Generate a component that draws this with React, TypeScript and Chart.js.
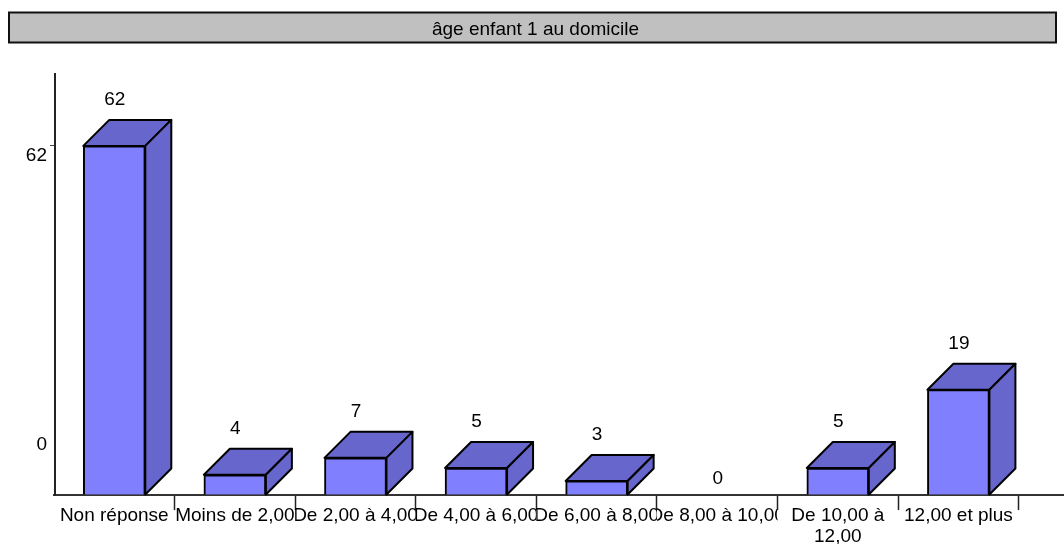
import React, { useEffect, useRef } from "react";
import { Chart, registerables, CategoryScale, LinearScale } from "chart.js";

Chart.register(...registerables);

const titleText = "âge enfant 1 au domicile";
const categories: (string | string[])[] = [
  "Non réponse",
  "Moins de 2,00",
  "De 2,00 à 4,00",
  "De 4,00 à 6,00",
  "De 6,00 à 8,00",
  "De 8,00 à 10,00",
  ["De 10,00 à", "12,00"],
  "12,00 et plus",
];
const percentages = [62, 3.6, 6.6, 4.8, 2.5, 0, 4.8, 18.7];
const yTickValues = [0, 62];
const yLabelShift: Record<number, number> = { 0: -50, 62: 10 };

const FONT = "'Liberation Sans', Arial, sans-serif";
const FRONT = "#8080FF";
const SHADE = "#6666CC";
const INK = "#000000";
const DEPTH_X = 26;
const DEPTH_Y = 26;

class ClippedCategory extends (CategoryScale as any) {
  static id = "clippedCategory";
  static defaults = (CategoryScale as any).defaults;
  drawLabels(area: any) {
    const items = (this as any).getLabelItems(area);
    const half = ((this as any).getPixelForTick(1) - (this as any).getPixelForTick(0)) / 2;
    const ctx = (this as any).ctx;
    items.forEach((item: any, i: number) => {
      const cx = (this as any).getPixelForTick(i);
      ctx.save();
      ctx.beginPath();
      ctx.rect(cx - half, (this as any).top, half * 2, (this as any).height);
      ctx.clip();
      (this as any)._labelItems = [item];
      super.drawLabels(area);
      ctx.restore();
    });
    (this as any)._labelItems = items;
  }
}

class ShiftedLinear extends (LinearScale as any) {
  static id = "shiftedLinear";
  static defaults = (LinearScale as any).defaults;
  _computeLabelItems(area: any) {
    const items = super._computeLabelItems(area);
    items.forEach((item: any, i: number) => {
      const v = (this as any).ticks[i].value;
      item.options.translation = [
        item.options.translation[0],
        item.options.translation[1] + (yLabelShift[v] || 0),
      ];
    });
    return items;
  }
  drawBorder() {
    const ctx = (this as any).ctx;
    ctx.save();
    ctx.translate(1, 0);
    super.drawBorder();
    ctx.restore();
  }
  drawGrid(area: any) {
    const ctx = (this as any).ctx;
    ctx.save();
    ctx.translate(3, 0);
    super.drawGrid(area);
    ctx.restore();
  }
}

Chart.register(ClippedCategory as any, ShiftedLinear as any);

const titleBox = {
  id: "titleBox",
  beforeDraw(chart: any) {
    const { ctx } = chart;
    if (chart.titleBlock) {
      chart.titleBlock.left = 8;
      chart.titleBlock.right = 1063;
    }
    ctx.save();
    ctx.fillStyle = "#C0C0C0";
    ctx.fillRect(9, 12.5, 1047, 30);
    ctx.strokeStyle = "#111111";
    ctx.lineWidth = 2;
    ctx.strokeRect(9, 12.5, 1047, 30);
    ctx.restore();
  },
};

const boxes3d = {
  id: "boxes3d",
  afterDatasetsDraw(chart: any) {
    const { ctx, chartArea } = chart;
    ctx.save();
    ctx.strokeStyle = INK;
    ctx.lineWidth = 2;
    ctx.lineJoin = "round";
    chart.getDatasetMeta(0).data.forEach((bar: any, i: number) => {
      const v = percentages[i];
      ctx.fillStyle = INK;
      ctx.font = `19px ${FONT}`;
      ctx.textAlign = "center";
      ctx.textBaseline = "middle";
      const gap = v === 0 ? 16 : 46;
      ctx.fillText(String(Math.round(v)), bar.x + 0.5, bar.y - gap);
      if (v === 0) return;
      const l = bar.x - bar.width / 2;
      const r = bar.x + bar.width / 2;
      const t = bar.y;
      const b = bar.base;
      ctx.fillStyle = SHADE;
      ctx.beginPath();
      ctx.moveTo(l, t);
      ctx.lineTo(l + DEPTH_X, t - DEPTH_Y);
      ctx.lineTo(r + DEPTH_X, t - DEPTH_Y);
      ctx.lineTo(r, t);
      ctx.closePath();
      ctx.fill();
      ctx.stroke();
      ctx.beginPath();
      ctx.moveTo(r, t);
      ctx.lineTo(r + DEPTH_X, t - DEPTH_Y);
      ctx.lineTo(r + DEPTH_X, b - DEPTH_Y);
      ctx.lineTo(r, b);
      ctx.closePath();
      ctx.fill();
      ctx.stroke();
    });
    ctx.strokeStyle = "#333333";
    ctx.lineWidth = 2;
    ctx.beginPath();
    ctx.moveTo(chartArea.right, chartArea.bottom);
    ctx.lineTo(chart.width, chartArea.bottom);
    ctx.stroke();
    ctx.restore();
  },
};

export default function App() {
  const ref = useRef<HTMLCanvasElement>(null);
  useEffect(() => {
    document.body.style.margin = "0";
    const chart = new Chart(ref.current as HTMLCanvasElement, {
      type: "bar",
      data: {
        labels: categories as any,
        datasets: [
          {
            data: percentages,
            backgroundColor: (c: any) => (percentages[c.dataIndex] === 0 ? "rgba(0,0,0,0)" : FRONT),
            borderColor: (c: any) => (percentages[c.dataIndex] === 0 ? "rgba(0,0,0,0)" : INK),
            borderWidth: (c: any) => (percentages[c.dataIndex] === 0 ? 0 : 2),
            barThickness: 62,
          } as any,
        ],
      },
      options: {
        responsive: false,
        animation: false,
        layout: { padding: { left: 0, right: 45.3, top: 0, bottom: 0 } },
        plugins: {
          legend: { display: false },
          tooltip: { enabled: false },
          title: {
            display: true,
            text: titleText,
            color: INK,
            font: { family: FONT, size: 19, weight: "normal" },
            padding: { top: 18, bottom: 33 },
          },
        },
        scales: {
          x: {
            type: "clippedCategory" as any,
            offset: true,
            border: { display: true, color: "#333333", width: 2 },
            grid: {
              offset: true,
              drawOnChartArea: false,
              drawTicks: true,
              tickLength: 15,
              tickWidth: 1.5,
              tickColor: (c: any) => (c.index === 0 ? "rgba(0,0,0,0)" : "#222222"),
            },
            ticks: {
              color: INK,
              font: { family: FONT, size: 19, lineHeight: 1.1 },
              padding: -5,
              maxRotation: 0,
              minRotation: 0,
              autoSkip: false,
            },
            afterFit: (s: any) => {
              s.height = 49;
            },
          } as any,
          y: {
            type: "shiftedLinear" as any,
            min: 0,
            max: 74.8,
            border: { display: true, color: "#222222", width: 2 },
            grid: {
              drawOnChartArea: false,
              drawTicks: true,
              tickLength: 7,
              tickWidth: 1,
              tickColor: (c: any) => (c.tick.value === 0 ? "rgba(0,0,0,0)" : "#444444"),
            },
            afterBuildTicks: (s: any) => {
              s.ticks = yTickValues.map((value) => ({ value }));
            },
            ticks: {
              color: INK,
              font: { family: FONT, size: 19 },
              padding: 0,
            },
            afterFit: (s: any) => {
              s.width = 54;
            },
          } as any,
        },
      },
      plugins: [titleBox, boxes3d],
    } as any);
    return () => chart.destroy();
  }, []);
  return (
    <div style={{ position: "absolute", left: 0, top: 0, width: 1064, height: 544 }}>
      <canvas ref={ref} width={1064} height={544} style={{ display: "block" }} />
    </div>
  );
}
